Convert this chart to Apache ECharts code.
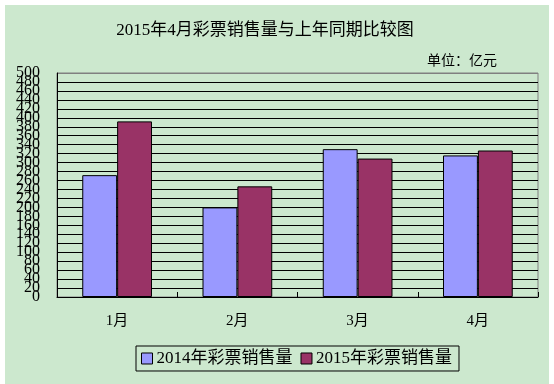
<!DOCTYPE html>
<html>
<head>
<meta charset="utf-8">
<script src="https://cdn.jsdelivr.net/npm/echarts@6/dist/echarts.min.js"></script>
<style>
html,body{margin:0;padding:0;background:#ffffff;}
#bg{position:absolute;left:5px;top:5px;width:544px;height:379px;background:#CCE8CE;}
#chart{position:absolute;left:0;top:0;width:554px;height:384px;}
</style>
</head>
<body>
<div id="bg"></div>
<div id="chart"></div>
<script>
var categories = ['1月', '2月', '3月', '4月'];
var seriesNames = ['2014年彩票销售量', '2015年彩票销售量'];
var sales2014 = [272, 200, 330, 316];
var sales2015 = [392, 247, 309, 327];
var titleText = '2015年4月彩票销售量与上年同期比较图';
var unitText = '单位：亿元';
var yMin = 0, yMax = 500, yStep = 20;

var FONT = '"Liberation Serif", "Noto Sans CJK SC", serif';
var gridColors = [];
for (var i = 0; i <= 25; i++) gridColors.push(i === 25 ? '#808080' : '#000000');
var yLabelStyle = {fontFamily: FONT, fontSize: 16, color: '#000', margin: 17, hideOverlap: false};

var chart = echarts.init(document.getElementById('chart'), null, {renderer: 'canvas'});
chart.setOption({
  backgroundColor: 'transparent',
  animation: false,
  title: [{
    text: titleText,
    left: 260, top: 17, textAlign: 'center',
    textStyle: {fontFamily: FONT, fontSize: 17, fontWeight: 'normal', color: '#000'}
  }, {
    text: unitText,
    left: 492, top: 49, textAlign: 'right',
    textStyle: {fontFamily: FONT, fontSize: 14, fontWeight: 'normal', color: '#000'}
  }],
  legend: {
    left: 136, top: 346,
    padding: [4, 7, 4, 5],
    itemGap: 8,
    itemWidth: 11, itemHeight: 11,
    borderColor: '#000', borderWidth: 1,
    icon: 'rect',
    textStyle: {fontFamily: FONT, fontSize: 17, color: '#000', padding: [0, 0, 0, -1]},
    itemStyle: {borderColor: '#000', borderWidth: 1},
    data: seriesNames
  },
  grid: {
    left: 57, right: 16, top: 73, bottom: 87,
    show: true, borderColor: '#808080', borderWidth: 1,
    backgroundColor: 'transparent',
    containLabel: false
  },
  xAxis: {
    type: 'category',
    data: categories,
    axisLine: {lineStyle: {color: '#000', width: 1}},
    axisTick: {show: true, inside: true, length: 5, lineStyle: {color: '#000'}},
    axisLabel: {fontFamily: FONT, fontSize: 15, color: '#000', margin: 17}
  },
  yAxis: [{
    type: 'value',
    min: yMin, max: yMax, interval: yStep,
    axisLine: {show: true, lineStyle: {color: '#000', width: 1}},
    axisTick: {show: false},
    axisLabel: Object.assign({interval: 0, showMinLabel: false, showMaxLabel: false}, yLabelStyle),
    splitLine: {show: true, lineStyle: {color: gridColors, width: 1}}
  }, {
    type: 'value', position: 'left', offset: 0,
    min: yMin, max: yMax, interval: yMax - yMin,
    axisLine: {show: false},
    axisTick: {show: false},
    axisLabel: Object.assign({showMinLabel: true, showMaxLabel: true}, yLabelStyle),
    splitLine: {show: false}
  }],
  series: [{
    name: seriesNames[0], type: 'bar', data: sales2014, yAxisIndex: 0,
    barGap: '0%', barCategoryGap: '42%',
    itemStyle: {color: '#9999FF', borderColor: '#000', borderWidth: 1}
  }, {
    name: seriesNames[1], type: 'bar', data: sales2015, yAxisIndex: 0,
    barGap: '0%', barCategoryGap: '42%',
    itemStyle: {color: '#993366', borderColor: '#000', borderWidth: 1}
  }]
});
</script>
</body>
</html>
